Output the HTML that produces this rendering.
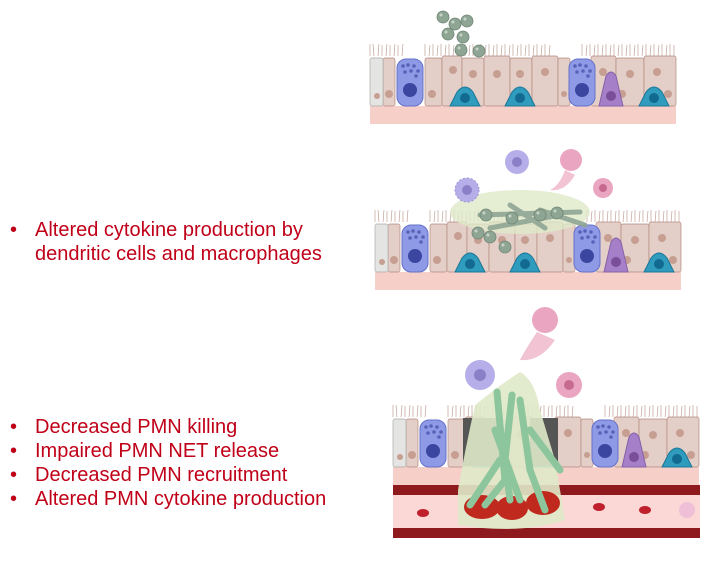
<!DOCTYPE html>
<html><head><meta charset="utf-8"><style>
html,body{margin:0;padding:0;background:#fff;width:718px;height:569px;overflow:hidden}
.t{position:absolute;font-family:"Liberation Sans",Arial,sans-serif;font-size:20px;color:#c00018;line-height:24px}
</style></head><body>
<svg width="718" height="569" style="position:absolute;left:0;top:0">
<defs>
<g id="epi">
  <rect x="0" y="62" width="306" height="18" fill="#f6cfc9"/>
  <g stroke="#b89088" stroke-width="0.6">
    <path d="M0 12 L0 0 M4 12 L3 0 M8 12 L9 0 M12 12 L12 1 M16 12 L17 0 M20 12 L20 1 M24 12 L25 0 M28 12 L28 1 M32 12 L33 0
    M55 12 L55 0 M59 12 L60 1 M63 12 L63 0 M67 12 L68 1 M71 12 L71 0 M75 12 L76 1 M79 12 L79 0 M83 12 L84 1 M87 12 L87 0 M91 12 L92 1 M95 12 L95 0 M99 12 L100 1 M103 12 L103 0 M107 12 L108 1 M111 12 L111 0 M115 12 L116 1 M119 12 L119 0 M123 12 L124 1 M127 12 L127 0 M131 12 L132 1 M135 12 L135 0 M139 12 L140 1 M143 12 L143 0 M147 12 L148 1 M151 12 L151 0 M155 12 L156 1 M159 12 L159 0 M163 12 L164 1 M167 12 L167 0 M171 12 L172 1 M175 12 L175 0 M179 12 L180 1
    M212 12 L212 0 M216 12 L217 1 M220 12 L220 0 M224 12 L225 1 M228 12 L228 0 M232 12 L233 1 M236 12 L236 0 M240 12 L241 1 M244 12 L244 0 M248 12 L249 1 M252 12 L252 0 M256 12 L257 1 M260 12 L260 0 M264 12 L265 1 M268 12 L268 0 M272 12 L273 1 M276 12 L276 0 M280 12 L281 1 M284 12 L284 0 M288 12 L289 1 M292 12 L292 0 M296 12 L297 1 M300 12 L300 0 M304 12 L304 1"/>
  </g>
  <g fill="#e3cfc7" stroke="#b48a80" stroke-width="0.7">
    <rect x="13" y="14" width="12" height="48" rx="2"/>
    <rect x="55" y="14" width="17" height="48" rx="2"/>
    <rect x="72" y="12" width="20" height="50" rx="2"/>
    <rect x="92" y="14" width="22" height="48" rx="2"/>
    <rect x="114" y="12" width="26" height="50" rx="2"/>
    <rect x="140" y="14" width="22" height="48" rx="2"/>
    <rect x="162" y="12" width="26" height="50" rx="2"/>
    <rect x="188" y="14" width="12" height="48" rx="2"/>
    <rect x="221" y="12" width="25" height="50" rx="2"/>
    <rect x="246" y="14" width="28" height="48" rx="2"/>
    <rect x="274" y="12" width="32" height="50" rx="2"/>
  </g>
  <rect x="0" y="14" width="13" height="48" rx="2" fill="#e4e4e2" stroke="#aaa" stroke-width="0.7"/>
  <g fill="#c79e92">
    <circle cx="7" cy="52" r="3"/><circle cx="19" cy="50" r="4"/><circle cx="62" cy="50" r="4"/><circle cx="83" cy="26" r="4"/><circle cx="98" cy="50" r="4"/><circle cx="103" cy="30" r="4"/><circle cx="127" cy="30" r="4"/><circle cx="150" cy="30" r="4"/><circle cx="154" cy="50" r="4"/><circle cx="175" cy="28" r="4"/><circle cx="194" cy="50" r="3"/><circle cx="233" cy="28" r="4"/><circle cx="252" cy="50" r="4"/><circle cx="260" cy="30" r="4"/><circle cx="287" cy="28" r="4"/><circle cx="298" cy="50" r="4"/>
  </g>
  <rect x="27" y="15" width="26" height="47" rx="9" fill="#8e9ae6" stroke="#6470c8"/>
  <circle cx="40" cy="46" r="7" fill="#3a46a0"/>
  <g fill="#5762b8"><circle cx="33" cy="22" r="1.8"/><circle cx="38" cy="21" r="1.8"/><circle cx="44" cy="22" r="1.8"/><circle cx="48" cy="27" r="1.8"/><circle cx="35" cy="28" r="1.8"/><circle cx="41" cy="27" r="1.8"/><circle cx="46" cy="32" r="1.8"/></g>
  <rect x="199" y="15" width="26" height="47" rx="9" fill="#8e9ae6" stroke="#6470c8"/>
  <circle cx="212" cy="46" r="7" fill="#3a46a0"/>
  <g fill="#5762b8"><circle cx="205" cy="22" r="1.8"/><circle cx="210" cy="21" r="1.8"/><circle cx="216" cy="22" r="1.8"/><circle cx="220" cy="27" r="1.8"/><circle cx="207" cy="28" r="1.8"/><circle cx="213" cy="27" r="1.8"/><circle cx="218" cy="32" r="1.8"/></g>
  <path d="M229 62 L236 32 Q241 24 246 32 L253 62 Z" fill="#a57fc7" stroke="#8760a8"/>
  <circle cx="241" cy="52" r="5" fill="#7a4e98"/>
  <path d="M80 62 L87 48 Q95 38 103 48 L110 62 Z" fill="#2f9bbd" stroke="#1d7797"/>
  <circle cx="95" cy="54" r="5" fill="#136a91"/>
  <path d="M135 62 L142 48 Q150 38 158 48 L165 62 Z" fill="#2f9bbd" stroke="#1d7797"/>
  <circle cx="150" cy="54" r="5" fill="#136a91"/>
  <path d="M269 62 L276 48 Q284 38 292 48 L299 62 Z" fill="#2f9bbd" stroke="#1d7797"/>
  <circle cx="284" cy="54" r="5" fill="#136a91"/>
</g>
<g id="sp"><circle r="6" fill="#8fa594" stroke="#6f8574" stroke-width="0.8"/><circle cx="-2" cy="-2" r="1.5" fill="#c8d4c8"/></g>
</defs>

<use href="#epi" x="370" y="44"/>
<use href="#sp" x="443" y="17"/><use href="#sp" x="455" y="24"/><use href="#sp" x="467" y="21"/><use href="#sp" x="448" y="34"/><use href="#sp" x="463" y="37"/><use href="#sp" x="461" y="50"/><use href="#sp" x="479" y="51"/>

<use href="#epi" x="375" y="210"/>
<ellipse cx="520" cy="212" rx="70" ry="22" fill="#dfe9c8" opacity="0.8"/>
<g stroke="#8fa594" stroke-width="5" stroke-linecap="round" opacity="0.9">
<path d="M480 215 L580 212 M510 205 L545 228 M490 228 L560 215 M540 210 L585 225"/></g>
<use href="#sp" x="486" y="215"/><use href="#sp" x="512" y="218"/><use href="#sp" x="540" y="215"/><use href="#sp" x="557" y="213"/><use href="#sp" x="478" y="233"/><use href="#sp" x="505" y="247"/><use href="#sp" x="490" y="237"/>
<circle cx="467" cy="190" r="12" fill="#b6aee8" stroke="#9a90d8" stroke-dasharray="2 2"/><circle cx="467" cy="190" r="5" fill="#8b80c8"/>
<circle cx="517" cy="162" r="12" fill="#b6aee8"/><circle cx="517" cy="162" r="5" fill="#8b80c8"/>
<circle cx="571" cy="160" r="11" fill="#eaa6c0"/><path d="M565 170 Q560 185 550 190 Q565 192 575 175Z" fill="#f1c3d3"/>
<circle cx="603" cy="188" r="10" fill="#eaa6c0"/><circle cx="603" cy="188" r="4" fill="#c66a90"/>

<use href="#epi" x="393" y="405"/>
<rect x="463" y="418" width="40" height="48" fill="#555"/><rect x="530" y="418" width="28" height="48" fill="#555"/>
<rect x="393" y="485" width="307" height="10" fill="#8e1a1e"/>
<rect x="393" y="495" width="307" height="33" fill="#fbd8d6"/>
<rect x="393" y="528" width="307" height="10" fill="#8e1a1e"/>
<path d="M475 405 Q500 385 520 372 Q535 380 540 410 L555 460 L565 520 Q520 535 458 525 L458 490 Q465 450 475 405Z" fill="#dfe9c8" opacity="0.9"/>
<g fill="#c02a1e"><ellipse cx="482" cy="507" rx="18" ry="12"/><ellipse cx="512" cy="508" rx="16" ry="12"/><ellipse cx="543" cy="503" rx="17" ry="12"/></g>
<g stroke="#8dc69c" stroke-width="7" stroke-linecap="round" fill="none">
<path d="M497 392 L505 480 L485 505 M512 395 L505 460 L510 500 M520 400 L530 470 L545 510 M495 430 L520 500 M530 430 L560 470 M500 460 L470 505"/></g>
<circle cx="480" cy="375" r="15" fill="#b6aee8"/><circle cx="480" cy="375" r="6" fill="#8b80c8"/>
<circle cx="545" cy="320" r="13" fill="#eaa6c0"/><path d="M537 332 Q525 350 520 360 Q540 362 555 340Z" fill="#f1c3d3"/>
<circle cx="569" cy="385" r="13" fill="#eaa6c0"/><circle cx="569" cy="385" r="5" fill="#c66a90"/>
<ellipse cx="423" cy="513" rx="6" ry="4" fill="#c0202c"/><ellipse cx="599" cy="507" rx="6" ry="4" fill="#c0202c"/><ellipse cx="645" cy="510" rx="6" ry="4" fill="#c0202c"/>
<circle cx="687" cy="510" r="8" fill="#eebfd6"/>
</svg>
<div class="t" style="left:10px;top:218px"><span style="position:absolute;left:0">•</span><span style="position:absolute;left:25px;white-space:nowrap">Altered cytokine production by<br>dendritic cells and macrophages</span></div>
<div class="t" style="left:10px;top:415px"><span style="position:absolute;left:0">•<br>•<br>•<br>•</span><span style="position:absolute;left:25px;white-space:nowrap">Decreased PMN killing<br>Impaired PMN NET release<br>Decreased PMN recruitment<br>Altered PMN cytokine production</span></div>
</body></html>
